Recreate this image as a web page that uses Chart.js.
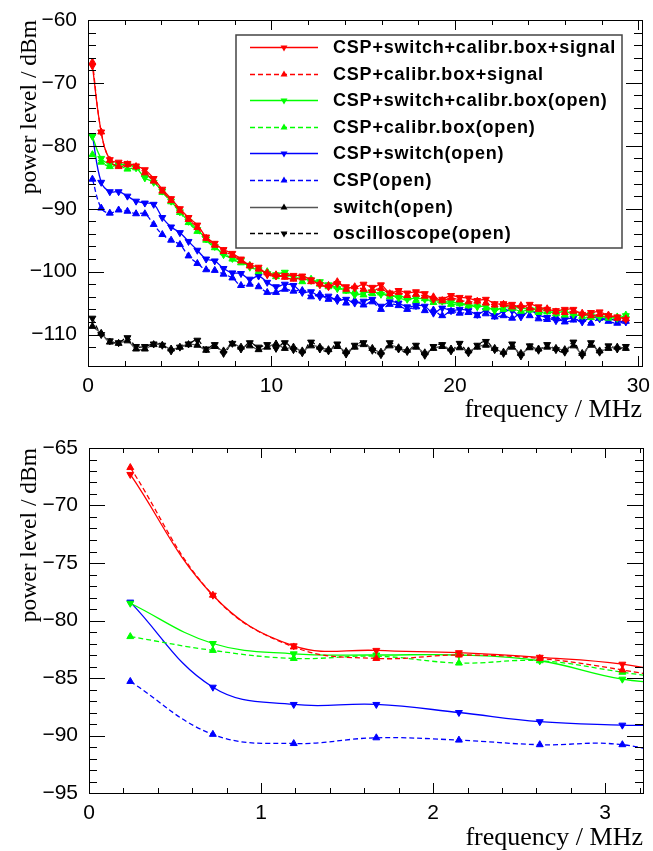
<!DOCTYPE html>
<html>
<head>
<meta charset="utf-8">
<script src="https://cdn.jsdelivr.net/npm/chart.js@4.4.1/dist/chart.umd.min.js"></script>
<style>
  html, body { margin: 0; padding: 0; background: #fff; }
  #wrap { position: relative; width: 653px; height: 851px; }
  .pane { position: absolute; left: 0; width: 653px; }
</style>
</head>
<body>
<div id="wrap">
  <div class="pane" style="top:0;height:425px"><canvas id="chartFull"></canvas></div>
  <div class="pane" style="top:425px;height:426px"><canvas id="chartZoom"></canvas></div>
</div>
<script>
// frequency bins (MHz)
const frequency = [0.24, 0.72, 1.19, 1.67, 2.15, 2.62, 3.10, 3.58, 4.05, 4.53,
  5.01, 5.48, 5.96, 6.44, 6.91, 7.39, 7.87, 8.34, 8.82, 9.30,
  9.77, 10.25, 10.73, 11.20, 11.68, 12.16, 12.64, 13.11, 13.59, 14.07,
  14.54, 15.02, 15.50, 15.97, 16.45, 16.93, 17.40, 17.88, 18.36, 18.83,
  19.31, 19.79, 20.26, 20.74, 21.22, 21.69, 22.17, 22.65, 23.12, 23.60,
  24.08, 24.56, 25.03, 25.51, 25.99, 26.46, 26.94, 27.42, 27.89, 28.37,
  28.85, 29.32];

// power level (dBm) per setup
const cspSwitchCalibSignal = [-67.3, -77.8, -82.2, -82.6, -82.8, -83.2, -83.8, -85.2, -86.9, -88.4,
  -90.0, -91.4, -92.6, -94.5, -95.5, -96.5, -97.1, -98.0, -99.0, -99.3,
  -100.5, -100.7, -100.6, -100.6, -100.7, -101.3, -102.1, -102.4, -101.9, -102.4,
  -102.6, -102.0, -102.5, -102.1, -103.4, -103.0, -103.4, -103.2, -103.5, -104.4,
  -104.4, -103.8, -104.1, -104.2, -104.6, -104.4, -105.1, -105.1, -105.2, -105.7,
  -105.2, -105.6, -106.0, -106.2, -106.0, -106.0, -106.8, -106.5, -106.4, -107.0,
  -107.2, -107.6];
const cspCalibSignal = [-66.7, -77.8, -82.3, -83.3, -83.0, -83.3, -84.3, -85.6, -87.2, -88.7,
  -90.3, -91.7, -93.0, -94.7, -95.8, -96.8, -97.4, -98.3, -99.1, -99.6,
  -100.2, -100.5, -100.9, -101.2, -101.0, -101.6, -101.9, -102.2, -101.6, -102.8,
  -102.4, -102.8, -103.0, -102.7, -103.5, -103.3, -103.8, -103.6, -103.9, -104.0,
  -104.6, -104.2, -104.5, -104.8, -104.7, -105.0, -105.3, -105.2, -105.6, -105.4,
  -105.8, -106.0, -105.9, -106.4, -106.5, -106.3, -106.6, -107.0, -106.8, -106.9,
  -107.4, -107.5];
const cspSwitchCalibOpen = [-78.5, -82.0, -82.9, -83.0, -83.0, -83.5, -85.1, -85.8, -87.2, -88.8,
  -90.5, -92.0, -93.3, -94.8, -96.0, -97.3, -97.9, -98.2, -99.3, -99.7,
  -100.3, -100.5, -100.1, -100.9, -101.1, -101.4, -101.6, -102.1, -102.7, -102.9,
  -103.7, -103.4, -103.2, -103.6, -103.6, -104.2, -104.4, -104.2, -104.4, -104.6,
  -104.7, -104.9, -105.0, -105.3, -105.6, -105.5, -106.2, -105.6, -105.7, -105.8,
  -106.0, -106.0, -106.2, -106.6, -106.3, -106.8, -107.0, -106.8, -107.2, -107.0,
  -107.4, -107.0];
const cspCalibOpen = [-81.4, -82.6, -83.3, -83.1, -83.7, -83.5, -84.5, -85.6, -87.4, -88.9,
  -90.6, -92.2, -93.6, -95.0, -96.2, -97.0, -98.0, -98.6, -99.0, -100.0,
  -100.0, -100.8, -100.5, -101.0, -101.6, -101.2, -102.0, -102.4, -102.4, -103.1,
  -103.2, -103.7, -103.5, -103.4, -104.0, -103.8, -104.2, -104.6, -104.3, -104.9,
  -104.8, -105.2, -105.1, -105.4, -105.3, -105.8, -105.6, -106.0, -105.9, -106.3,
  -106.1, -106.5, -106.4, -106.7, -106.9, -106.6, -107.1, -107.3, -107.0, -107.4,
  -107.2, -106.9];
const cspSwitchOpen = [-78.4, -85.8, -87.3, -87.3, -88.0, -88.8, -89.1, -89.3, -91.4, -92.9,
  -93.8, -95.2, -96.6, -98.0, -98.3, -99.5, -100.2, -100.3, -101.2, -100.7,
  -101.7, -102.4, -102.0, -102.2, -103.3, -103.2, -104.0, -103.9, -104.6, -104.4,
  -105.0, -104.7, -104.4, -105.5, -104.8, -105.0, -105.6, -105.4, -105.5, -106.6,
  -105.8, -106.2, -106.0, -106.2, -106.8, -106.2, -107.0, -106.3, -106.2, -107.2,
  -106.2, -106.9, -107.3, -107.8, -107.6, -107.4, -108.0, -107.2, -107.5, -107.5,
  -107.8, -108.0];
const cspOpen = [-85.3, -89.9, -90.7, -90.2, -90.4, -90.8, -90.8, -92.5, -94.1, -95.0,
  -95.7, -97.5, -98.7, -99.7, -99.8, -100.4, -101.0, -102.2, -102.0, -102.4,
  -103.3, -103.3, -102.8, -103.1, -103.0, -104.0, -103.6, -104.4, -104.2, -105.0,
  -104.6, -105.3, -104.8, -106.0, -105.2, -105.4, -106.0, -105.6, -106.2, -106.1,
  -107.0, -106.3, -106.6, -106.5, -107.0, -106.7, -107.2, -107.0, -107.4, -106.6,
  -107.0, -107.5, -107.6, -107.2, -108.0, -107.7, -107.6, -108.2, -107.4, -107.9,
  -108.2, -107.9];
const switchOpen = [-108.7, -109.8, -111.2, -111.4, -111.0, -112.3, -112.3, -111.6, -111.7, -112.3,
  -112.0, -111.6, -111.7, -112.5, -111.9, -112.6, -111.5, -112.0, -111.8, -112.4,
  -112.0, -111.5, -112.2, -112.0, -112.6, -111.8, -112.0, -112.4, -111.9, -112.7,
  -112.0, -111.6, -112.2, -112.8, -111.8, -112.1, -112.5, -112.0, -112.9, -112.2,
  -111.9, -112.3, -112.1, -112.6, -112.0, -111.7, -112.2, -112.8, -112.0, -113.0,
  -112.1, -112.3, -112.0, -112.2, -112.4, -111.8, -113.0, -111.7, -112.6, -112.2,
  -112.0, -112.2];
const oscilloscopeOpen = [-107.4, -110.0, -111.0, -111.3, -110.5, -111.9, -111.9, -111.5, -111.7, -112.6,
  -112.0, -111.5, -110.9, -112.3, -111.6, -113.0, -111.4, -112.3, -111.3, -112.0,
  -111.6, -112.2, -111.3, -112.4, -112.9, -111.2, -112.3, -112.6, -111.5, -113.1,
  -111.7, -111.3, -112.5, -113.2, -111.3, -112.3, -112.7, -111.7, -113.3, -111.9,
  -111.6, -112.6, -111.4, -112.9, -111.7, -111.1, -112.4, -113.0, -111.5, -113.4,
  -111.8, -112.5, -111.6, -112.4, -112.8, -111.2, -113.3, -111.3, -112.8, -111.8,
  -112.3, -111.9];

const seriesLabels = ['CSP+switch+calibr.box+signal', 'CSP+calibr.box+signal',
  'CSP+switch+calibr.box(open)', 'CSP+calibr.box(open)', 'CSP+switch(open)',
  'CSP(open)', 'switch(open)', 'oscilloscope(open)'];

const series = [
  { values: cspSwitchCalibSignal, color: '#ff0000', dash: [], down: true },
  { values: cspCalibSignal, color: '#ff0000', dash: [5, 3], down: false },
  { values: cspSwitchCalibOpen, color: '#00ff00', dash: [], down: true },
  { values: cspCalibOpen, color: '#00ff00', dash: [5, 3], down: false },
  { values: cspSwitchOpen, color: '#0000ff', dash: [], down: true },
  { values: cspOpen, color: '#0000ff', dash: [5, 3], down: false },
  { values: switchOpen, color: '#555555', marker: '#000000', dash: [], down: false },
  { values: oscilloscopeOpen, color: '#000000', dash: [5, 3], down: true }
];

function makeDatasets() {
  return series.map((s, i) => ({
    label: seriesLabels[i],
    data: frequency.map((f, k) => ({ x: f, y: s.values[k] })),
    borderColor: s.color,
    borderWidth: 1.3,
    borderDash: s.dash,
    tension: 0.4,
    fill: false,
    pointStyle: 'triangle',
    pointRadius: 4,
    pointRotation: s.down ? 180 : 0,
    pointBackgroundColor: s.marker || s.color,
    pointBorderColor: s.marker || s.color,
    pointBorderWidth: 1
  }));
}

const minus = v => String(v).replace('-', '\u2212');
const onStep = (v, step) => Math.abs(v / step - Math.round(v / step)) < 1e-6;

// ROOT-like frame with ticks pointing inwards on all four sides
const rootFrame = {
  id: 'rootFrame',
  afterDraw(chart, args, o) {
    const { ctx, chartArea: a, scales: { x, y } } = chart;
    ctx.save();
    ctx.strokeStyle = '#000';
    ctx.lineWidth = 1;
    ctx.beginPath();
    x.ticks.forEach(t => {
      if (!onStep(t.value, o.xStep)) return;
      const px = Math.round(x.getPixelForValue(t.value)) + 0.5;
      const len = onStep(t.value, o.xMajor) ? 10 : 5;
      ctx.moveTo(px, a.bottom); ctx.lineTo(px, a.bottom - len);
      ctx.moveTo(px, a.top); ctx.lineTo(px, a.top + len);
    });
    y.ticks.forEach(t => {
      if (!onStep(t.value, o.yStep)) return;
      const py = Math.round(y.getPixelForValue(t.value)) + 0.5;
      const len = onStep(t.value, o.yMajor) ? 16 : 8;
      ctx.moveTo(a.left, py); ctx.lineTo(a.left + len, py);
      ctx.moveTo(a.right, py); ctx.lineTo(a.right - len, py);
    });
    ctx.stroke();
    ctx.strokeRect(Math.round(a.left) + 0.5, Math.round(a.top) + 0.5,
      Math.round(a.right - a.left), Math.round(a.bottom - a.top));
    ctx.restore();
  }
};

function triangle(ctx, cx, cy, r, down, color) {
  const s = down ? -1 : 1;
  ctx.beginPath();
  ctx.moveTo(cx, cy - s * r);
  ctx.lineTo(cx + r * 0.866, cy + s * r * 0.5);
  ctx.lineTo(cx - r * 0.866, cy + s * r * 0.5);
  ctx.closePath();
  ctx.fillStyle = color;
  ctx.fill();
}

const rootLegend = {
  id: 'rootLegend',
  afterDraw(chart, args, o) {
    const ctx = chart.ctx;
    ctx.save();
    ctx.fillStyle = '#fff';
    ctx.fillRect(o.left, o.top, o.right - o.left, o.bottom - o.top);
    ctx.strokeStyle = '#444';
    ctx.lineWidth = 1.5;
    ctx.strokeRect(o.left, o.top, o.right - o.left, o.bottom - o.top);
    chart.data.datasets.forEach((ds, i) => {
      const yy = Math.round(o.firstRow + i * o.rowStep);
      ctx.beginPath();
      ctx.strokeStyle = ds.borderColor;
      ctx.lineWidth = 1.6;
      ctx.setLineDash(ds.borderDash);
      ctx.moveTo(o.lineStart, yy + 0.5);
      ctx.lineTo(o.lineEnd, yy + 0.5);
      ctx.stroke();
      ctx.setLineDash([]);
      triangle(ctx, (o.lineStart + o.lineEnd) / 2, yy + 0.5, 4, ds.pointRotation === 180, ds.pointBackgroundColor);
      ctx.fillStyle = '#000';
      ctx.font = 'bold 18px "Liberation Sans", Arial, sans-serif';
      ctx.letterSpacing = '0.8px';
      ctx.textBaseline = 'middle';
      ctx.fillText(ds.label, o.textX, yy + 1);
    });
    ctx.restore();
  }
};

const tickFont = { family: '"Liberation Sans", Arial, sans-serif', size: 21 };
const serif = '"Liberation Serif", "Times New Roman", serif';

function fixBox(prop, val) {
  return s => {
    s[prop] = val;
    s.paddingLeft = s.paddingRight = s.paddingTop = s.paddingBottom = 0;
  };
}

function makeOptions(cfg) {
  return {
    responsive: true,
    maintainAspectRatio: false,
    animation: false,
    layout: { padding: cfg.padding },
    plugins: {
      legend: { display: false },
      tooltip: { enabled: false },
      rootFrame: cfg.frame,
      rootLegend: cfg.legend
    },
    scales: {
      x: {
        type: 'linear', min: cfg.xMin, max: cfg.xMax,
        afterFit: fixBox('height', cfg.xHeight),
        grid: { display: false }, border: { display: false },
        ticks: {
          stepSize: cfg.frame.xStep, autoSkip: false, includeBounds: false, maxRotation: 0, padding: 0,
          color: '#000', font: tickFont,
          callback: v => onStep(v, cfg.frame.xMajor) ? minus(Math.round(v)) : ''
        },
        title: { display: true, text: 'frequency / MHz', align: 'end', color: '#000',
          font: { family: serif, size: 26, lineHeight: 1 }, padding: { top: 0, bottom: cfg.xTitlePad } }
      },
      y: {
        type: 'linear', min: cfg.yMin, max: cfg.yMax,
        afterFit: fixBox('width', cfg.yWidth),
        grid: { display: false }, border: { display: false },
        ticks: {
          stepSize: cfg.frame.yStep, autoSkip: false, includeBounds: true, padding: 3,
          color: '#000', font: tickFont,
          callback: v => onStep(v, cfg.frame.yMajor) ? minus(Math.round(v)) : ''
        },
        title: { display: true, text: 'power level / dBm', align: 'end', color: '#000',
          font: { family: serif, size: 23.5, lineHeight: 1 }, padding: { top: 6, bottom: 0 } }
      }
    }
  };
}

new Chart(document.getElementById('chartFull'), {
  type: 'line',
  data: { datasets: makeDatasets() },
  options: makeOptions({
    padding: { left: 12, right: 11, top: 20, bottom: 0 },
    xMin: 0, xMax: 30.2, yMin: -115, yMax: -60,
    xHeight: 59, yWidth: 76, xTitlePad: 2,
    frame: { xStep: 2, xMajor: 10, yStep: 2, yMajor: 10 },
    legend: { left: 236, right: 622, top: 35, bottom: 248, firstRow: 47, rowStep: 26.6,
      lineStart: 250, lineEnd: 318, textX: 333 }
  }),
  plugins: [rootFrame, rootLegend]
});

new Chart(document.getElementById('chartZoom'), {
  type: 'line',
  data: { datasets: makeDatasets() },
  options: makeOptions({
    padding: { left: 12, right: 10, top: 23, bottom: 0 },
    xMin: 0, xMax: 3.22, yMin: -95, yMax: -65,
    xHeight: 58, yWidth: 77, xTitlePad: 0,
    frame: { xStep: 0.2, xMajor: 1, yStep: 1, yMajor: 5 },
    legend: false
  }),
  plugins: [rootFrame]
});
</script>
</body>
</html>
